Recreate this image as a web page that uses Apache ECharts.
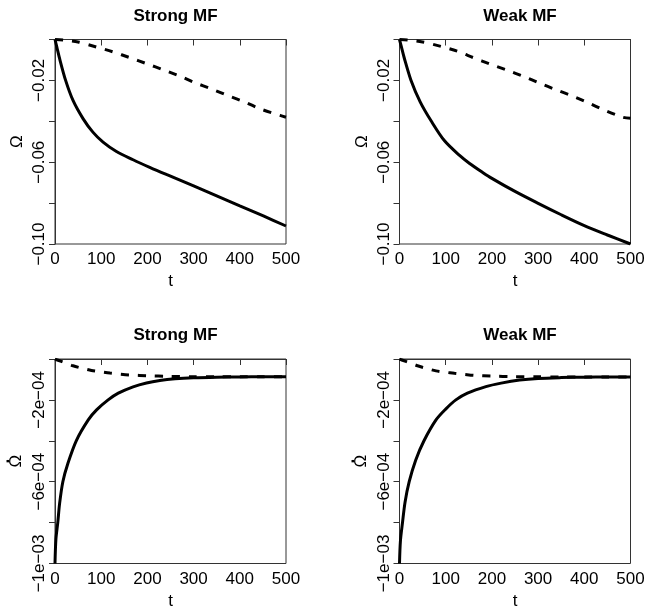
<!DOCTYPE html>
<html>
<head>
<meta charset="utf-8">
<script src="https://cdn.jsdelivr.net/npm/echarts@6/dist/echarts.min.js"></script>
<style>
html,body{margin:0;padding:0;background:#fff;}
#chart{width:646px;height:608px;}
</style>
</head>
<body>
<div id="chart"></div>
<script>
// ---------- data ----------
const panelTitles = ['Strong MF', 'Weak MF', 'Strong MF', 'Weak MF'];
const xTicks = [0, 100, 200, 300, 400, 500];
const xTickLabels = ['0', '100', '200', '300', '400', '500'];
const topYTicks = [-0.10, -0.08, -0.06, -0.04, -0.02, 0.00];
const topYTickLabels = ['\u22120.10', '', '\u22120.06', '', '\u22120.02', ''];
const botYTicks = [-1e-3, -8e-4, -6e-4, -4e-4, -2e-4, 0];
const botYTickLabels = ['\u22121e\u221203', '', '\u22126e\u221204', '', '\u22122e\u221204', ''];
const topYName = '\u03A9';
const botYName = '{d|.}\n{o|\u03A9}';
const xName = 't';

// Omega, strong MF
const tOmegaStrongSolid = [0, 4, 10, 23, 39, 61, 82, 104, 133, 169, 205, 241, 300, 350, 400, 451, 500];
const omegaStrongSolid = [0, -0.0037, -0.0094, -0.0200, -0.0298, -0.0388, -0.0453, -0.0502, -0.0548, -0.0588, -0.0625, -0.0660, -0.0716, -0.0765, -0.0814, -0.0863, -0.0912];
const tOmegaStrongDashed = [0, 20, 50, 90, 126, 162, 198, 234, 270, 303, 339, 375, 411, 444, 487, 500];
const omegaStrongDashed = [0, -0.0003, -0.0012, -0.0037, -0.0061, -0.0089, -0.0118, -0.0148, -0.0179, -0.0211, -0.0242, -0.0275, -0.0306, -0.0339, -0.0371, -0.0380];
// Omega, weak MF
const tOmegaWeakSolid = [0, 4, 10, 25, 45, 69, 97, 130, 151, 180, 200, 250, 299, 350, 400, 450, 500];
const omegaWeakSolid = [0, -0.0035, -0.0088, -0.0200, -0.0306, -0.0400, -0.0494, -0.0567, -0.0605, -0.0650, -0.0679, -0.0743, -0.0800, -0.0857, -0.0910, -0.0956, -0.1000];
const tOmegaWeakDashed = [0, 20, 50, 90, 126, 160, 198, 234, 268, 303, 339, 375, 408, 442, 483, 500];
const omegaWeakDashed = [0, -0.0003, -0.0012, -0.0034, -0.0058, -0.0089, -0.0122, -0.0151, -0.0180, -0.0213, -0.0246, -0.0277, -0.0309, -0.0344, -0.0380, -0.0385];
// Omega-dot, strong MF
const tDotStrongSolid = [0, 2, 6, 10, 17, 28, 46, 72, 90, 115, 137, 169, 198, 227, 260, 300, 350, 400, 450, 500];
const dotStrongSolid = [-1.0e-3, -8.8e-4, -8.0e-4, -7.06e-4, -6.0e-4, -5.1e-4, -4.0e-4, -2.98e-4, -2.49e-4, -2.0e-4, -1.67e-4, -1.36e-4, -1.17e-4, -1.05e-4, -9.7e-5, -9.2e-5, -8.9e-5, -8.75e-5, -8.7e-5, -8.7e-5];
const tDotStrongDashed = [0, 5, 20, 39, 60, 79, 100, 119, 140, 162, 202, 245, 292, 350, 400, 450, 500];
const dotStrongDashed = [0, -5e-6, -1.7e-5, -3.3e-5, -4.6e-5, -5.6e-5, -6.3e-5, -6.9e-5, -7.4e-5, -7.8e-5, -8.2e-5, -8.5e-5, -8.65e-5, -8.7e-5, -8.7e-5, -8.7e-5, -8.7e-5];
// Omega-dot, weak MF
const tDotWeakSolid = [0, 2, 6.5, 12, 21, 35, 53, 79, 100, 122, 147, 187, 220, 260, 300, 350, 400, 450, 500];
const dotWeakSolid = [-1.0e-3, -8.9e-4, -8.0e-4, -7.0e-4, -6.0e-4, -4.95e-4, -4.0e-4, -2.98e-4, -2.45e-4, -2.0e-4, -1.67e-4, -1.35e-4, -1.18e-4, -1.03e-4, -9.5e-5, -9.1e-5, -8.9e-5, -8.8e-5, -8.8e-5];
const tDotWeakDashed = [0, 5, 20, 39, 60, 79, 100, 119, 140, 162, 202, 245, 292, 350, 400, 450, 500];
const dotWeakDashed = [0, -5e-6, -1.7e-5, -3.3e-5, -4.7e-5, -5.8e-5, -6.5e-5, -7.0e-5, -7.5e-5, -8.0e-5, -8.4e-5, -8.6e-5, -8.7e-5, -8.8e-5, -8.8e-5, -8.8e-5, -8.8e-5];

// ---------- layout ----------
const FONT = 'Liberation Sans, Arial, Helvetica, sans-serif';
const PW = 231, PH = 204.5;
const grids = [
  {left: 55, top: 39.5},
  {left: 399.5, top: 39.5},
  {left: 55, top: 359},
  {left: 399.5, top: 359}
];

function zip(ts, vs) { return ts.map((t, i) => [t, vs[i]]); }
function labelFor(ticks, labels) {
  return function (v) {
    let best = 0, bd = Infinity;
    ticks.forEach((t, i) => { const d = Math.abs(t - v); if (d < bd) { bd = d; best = i; } });
    return bd < 1e-9 ? labels[best] : '';
  };
}

const option = {
  animation: false,
  backgroundColor: '#ffffff',
  title: grids.map((g, i) => ({
    text: panelTitles[i],
    left: g.left + PW / 2,
    top: g.top - 37,
    textAlign: 'center',
    textStyle: {fontFamily: FONT, fontWeight: 'bold', fontSize: 17, color: '#000'}
  })),
  grid: grids.map(g => ({
    left: g.left, top: g.top, width: PW, height: PH,
    containLabel: false, outerBoundsMode: 'none',
    show: true, borderColor: '#333', borderWidth: 1, backgroundColor: 'transparent'
  })),
  xAxis: grids.map((g, i) => ({
    type: 'value', gridIndex: i, min: 0, max: 500, interval: 100,
    name: xName, nameLocation: 'middle', nameGap: 29,
    nameTextStyle: {fontFamily: FONT, fontSize: 17, color: '#000'},
    axisLine: {show: true, lineStyle: {color: '#333', width: 1}},
    axisTick: {show: true, length: 6, lineStyle: {color: '#333', width: 1}},
    axisLabel: {fontFamily: FONT, fontSize: 17, color: '#000', margin: 7,
      formatter: labelFor(xTicks, xTickLabels)},
    splitLine: {show: false}
  })),
  yAxis: grids.map((g, i) => {
    const top = i < 2;
    return {
      type: 'value', gridIndex: i,
      min: top ? -0.1 : -0.001, max: 0, interval: top ? 0.02 : 0.0002,
      name: top ? topYName : botYName, nameLocation: 'middle', nameGap: top ? 29 : 30, nameRotate: 90,
      nameTextStyle: top ? {fontFamily: FONT, fontSize: 17, color: '#000'} : {
        fontFamily: FONT, fontSize: 17, color: '#000', align: 'center',
        rich: {
          d: {fontFamily: FONT, fontSize: 17, fontWeight: 'bold', color: '#000', lineHeight: 7, align: 'center'},
          o: {fontFamily: FONT, fontSize: 17, color: '#000', lineHeight: 17, align: 'center'}
        }
      },
      axisLine: {show: true, lineStyle: {color: '#333', width: 1}},
      axisTick: {show: true, length: 6, lineStyle: {color: '#333', width: 1}},
      axisLabel: {fontFamily: FONT, fontSize: 17, color: '#000', margin: 7, rotate: 90,
        formatter: top ? labelFor(topYTicks, topYTickLabels) : labelFor(botYTicks, botYTickLabels)},
      splitLine: {show: false}
    };
  }),
  series: []
};

function addSeries(idx, ts, vs, dashed) {
  option.series.push({
    type: 'line', xAxisIndex: idx, yAxisIndex: idx,
    data: zip(ts, vs), showSymbol: false, symbol: 'none',
    smooth: 0.3,
    lineStyle: {color: '#000', width: 3, type: dashed ? [8, 9] : 'solid', cap: 'butt'}
  });
}
addSeries(0, tOmegaStrongSolid, omegaStrongSolid, false);
addSeries(0, tOmegaStrongDashed, omegaStrongDashed, true);
addSeries(1, tOmegaWeakSolid, omegaWeakSolid, false);
addSeries(1, tOmegaWeakDashed, omegaWeakDashed, true);
addSeries(2, tDotStrongSolid, dotStrongSolid, false);
addSeries(2, tDotStrongDashed, dotStrongDashed, true);
addSeries(3, tDotWeakSolid, dotWeakSolid, false);
addSeries(3, tDotWeakDashed, dotWeakDashed, true);

const chart = echarts.init(document.getElementById('chart'), null, {renderer: 'canvas'});
chart.setOption(option);
</script>
</body>
</html>
